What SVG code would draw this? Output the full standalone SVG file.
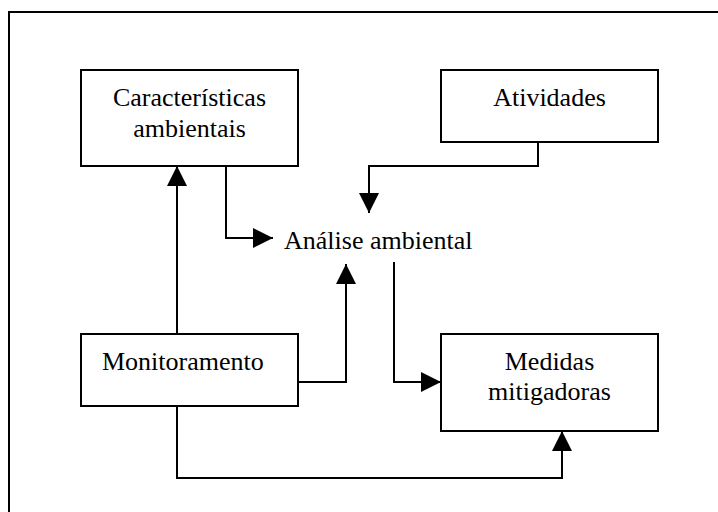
<svg xmlns="http://www.w3.org/2000/svg" width="718" height="512" viewBox="0 0 718 512">
<defs>
<style>
.box{fill:#fff;stroke:#000;stroke-width:2}
.ln{fill:none;stroke:#000;stroke-width:2}
.t{font-family:"Liberation Serif","Times New Roman",serif;font-size:26px;fill:#000}
.c{text-anchor:middle}
</style>
<marker id="ah" viewBox="0 0 20 20" refX="20" refY="10" markerWidth="20" markerHeight="20" markerUnits="userSpaceOnUse" orient="auto">
<path d="M0,0 L20,10 L0,20 Z" fill="#000"/>
</marker>
</defs>
<rect x="0" y="0" width="718" height="512" fill="#fff"/>
<path d="M9,512 V12 H718" fill="none" stroke="#000" stroke-width="2"/>
<g id="connectors">
<path class="ln" d="M226,166 V238 H273" marker-end="url(#ah)"/>
<path class="ln" d="M177,334 V166" marker-end="url(#ah)"/>
<path class="ln" d="M538,142 V166 H369 V213" marker-end="url(#ah)"/>
<path class="ln" d="M298,382 H346 V264" marker-end="url(#ah)"/>
<path class="ln" d="M394,262 V382 H441" marker-end="url(#ah)"/>
<path class="ln" d="M177,406 V478 H562 V431" marker-end="url(#ah)"/>
</g>
<g id="caracteristicas">
<rect class="box" x="81" y="70" width="217" height="96"/>
<text class="t c" x="189.5" y="106">Características</text>
<text class="t c" x="189.5" y="137">ambientais</text>
</g>
<g id="atividades">
<rect class="box" x="441" y="70" width="217" height="72"/>
<text class="t c" x="549.5" y="106">Atividades</text>
</g>
<g id="analise">
<text class="t" x="284" y="249">Análise ambiental</text>
</g>
<g id="monitoramento">
<rect class="box" x="81" y="334" width="217" height="72"/>
<text class="t" x="102" y="370">Monitoramento</text>
</g>
<g id="medidas">
<rect class="box" x="441" y="334" width="217" height="97"/>
<text class="t c" x="549.5" y="370">Medidas</text>
<text class="t c" x="549.5" y="400">mitigadoras</text>
</g>
</svg>
